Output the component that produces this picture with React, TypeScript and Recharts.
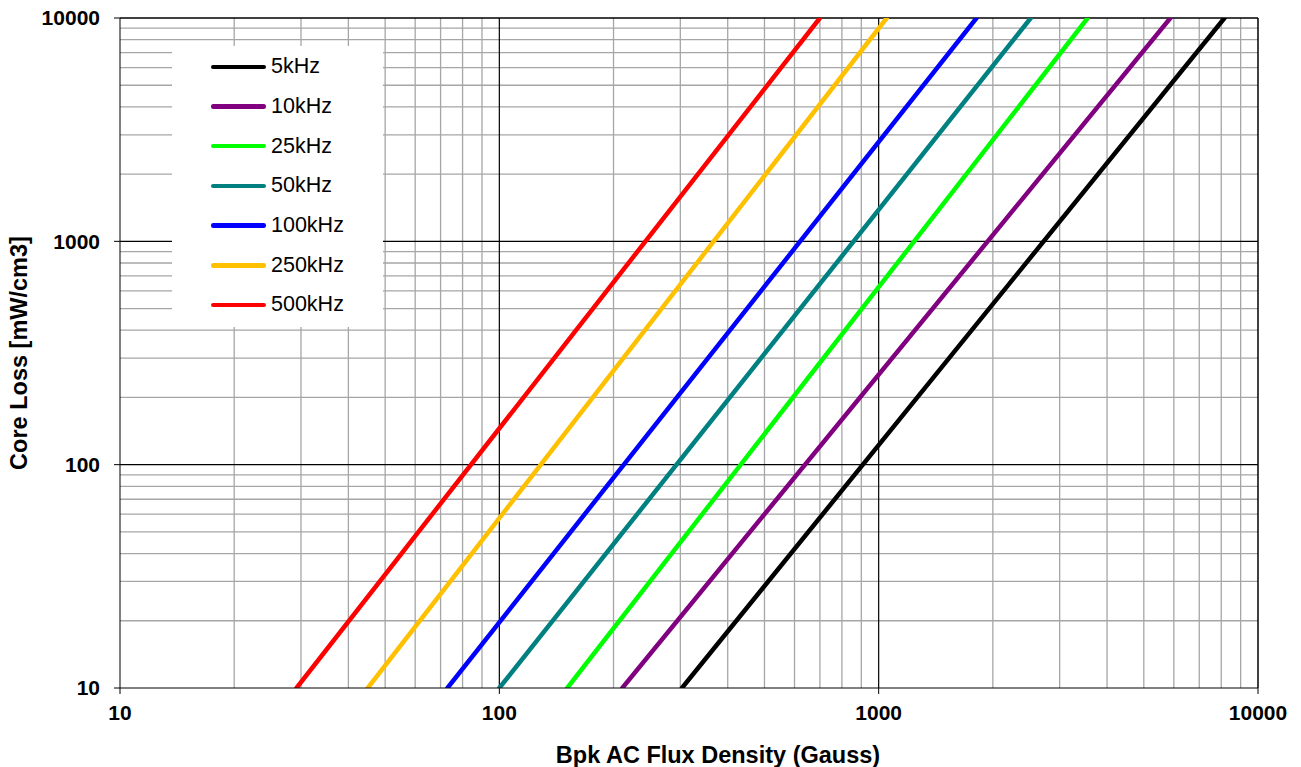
import React from 'react';
import {
  LineChart,
  Line,
  XAxis,
  YAxis,
  ReferenceLine
} from 'recharts';

// frequency series, each a straight line on log-log axes (start at 10, end at 10000 mW/cm3)
const seriesNames = ['5kHz', '10kHz', '25kHz', '50kHz', '100kHz', '250kHz', '500kHz'];
const seriesColors = ['#000000', '#800080', '#00ff00', '#008080', '#0000ff', '#ffc000', '#ff0000'];
const fluxStart = [303, 211, 151, 100, 73, 45, 29.2];
const fluxEnd = [8160, 5875, 3556, 2518, 1811, 1050, 700];
const lossStart = 10;
const lossEnd = 10000;

const decadeTicks = [10, 100, 1000, 10000];
const majorGrid = [100, 1000];
const minorGrid = [
  20, 30, 40, 50, 60, 70, 80, 90,
  200, 300, 400, 500, 600, 700, 800, 900,
  2000, 3000, 4000, 5000, 6000, 7000, 8000, 9000
];

const series = seriesNames.map((name, i) => ({
  name,
  color: seriesColors[i],
  data: [
    { x: fluxStart[i], y: lossStart },
    { x: fluxEnd[i], y: lossEnd }
  ]
}));

const FONT = '"Liberation Sans", Arial, sans-serif';

// legend drawn as an overlay so it doesn't shrink the plot area
const LegendBox = () => (
  <div
    style={{
      position: 'absolute',
      left: 172,
      top: 46,
      background: '#fff',
      width: 211,
      height: 281,
      boxSizing: 'border-box',
      paddingTop: 1,
      fontFamily: FONT
    }}
  >
    {series.map(s => (
      <div key={s.name} style={{ display: 'flex', alignItems: 'center', height: 39.7 }}>
        <div
          style={{
            marginLeft: 39,
            width: 55,
            height: 4.5,
            borderRadius: 2.25,
            background: s.color
          }}
        />
        <span style={{ marginLeft: 5, fontSize: 21.5, color: '#000' }}>{s.name}</span>
      </div>
    ))}
  </div>
);

const App: React.FC = () => {
  return (
    <div style={{ position: 'absolute', left: 0, top: 0, width: 1301, height: 767, background: '#fff' }}>
      <LineChart width={1301} height={767} margin={{ top: 18, right: 43, bottom: 0, left: 0 }}>
        <XAxis
          dataKey="x"
          type="number"
          scale="log"
          domain={[10, 10000]}
          ticks={decadeTicks}
          allowDataOverflow
          height={79}
          stroke="#000"
          tickSize={6}
          tickMargin={11}
          tick={{ fill: '#000', fontSize: 21, fontWeight: 'bold', fontFamily: FONT }}
          label={{
            value: 'Bpk AC Flux Density (Gauss)',
            position: 'insideBottom',
            offset: 4,
            dx: 29,
            style: { fill: '#000', fontSize: 23.5, fontWeight: 'bold', fontFamily: FONT }
          }}
        />
        <YAxis
          dataKey="y"
          type="number"
          scale="log"
          domain={[10, 10000]}
          ticks={decadeTicks}
          allowDataOverflow
          width={120}
          stroke="#000"
          tickSize={6}
          tickMargin={14}
          tick={{ fill: '#000', fontSize: 21, fontWeight: 'bold', fontFamily: FONT }}
          label={{
            value: 'Core Loss [mW/cm3]',
            angle: -90,
            position: 'insideLeft',
            offset: 19,
            style: { textAnchor: 'middle', fill: '#000', fontSize: 23.5, fontWeight: 'bold', fontFamily: FONT }
          }}
        />
        {minorGrid.map(v => (
          <ReferenceLine key={`vx${v}`} x={v} stroke="#a6a6a6" strokeWidth={1.3} />
        ))}
        {minorGrid.map(v => (
          <ReferenceLine key={`hy${v}`} y={v} stroke="#a6a6a6" strokeWidth={1.3} />
        ))}
        {majorGrid.map(v => (
          <ReferenceLine key={`mx${v}`} x={v} stroke="#000" strokeWidth={1.2} />
        ))}
        {majorGrid.map(v => (
          <ReferenceLine key={`my${v}`} y={v} stroke="#000" strokeWidth={1.2} />
        ))}
        <ReferenceLine x={10000} stroke="#000" strokeWidth={1.5} />
        <ReferenceLine y={10000} stroke="#000" strokeWidth={1.5} />
        {series.map(s => (
          <Line
            key={s.name}
            data={s.data}
            dataKey="y"
            name={s.name}
            type="linear"
            stroke={s.color}
            strokeWidth={4.5}
            strokeLinecap="round"
            dot={false}
            activeDot={false}
            isAnimationActive={false}
          />
        ))}
      </LineChart>
      <LegendBox />
    </div>
  );
};

export default App;
